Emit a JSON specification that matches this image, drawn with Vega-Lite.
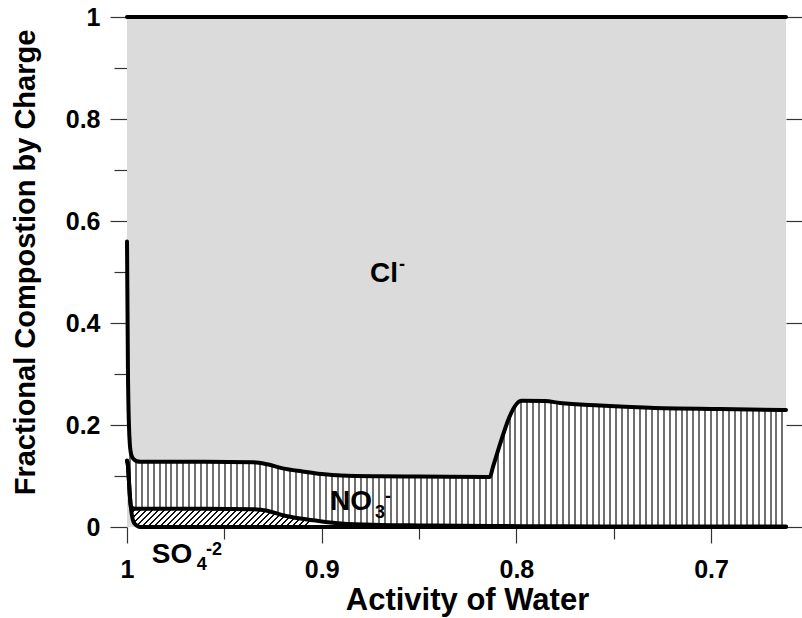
{
"$schema": "https://vega.github.io/schema/vega-lite/v6.json",
"width": 659, "height": 510,
"autosize": {"type": "none"},
"padding": {"left": 127, "top": 17, "right": 16, "bottom": 91},
"background": "white",
"config": {"view": {"stroke": null}, "font": "Liberation Sans"},
"datasets": {
"comp": [
{"aw":1,"c0":0.13,"c1":0.13,"c2":0.56},
{"aw":0.9995,"c0":0.12,"c1":0.12,"c2":0.3},
{"aw":0.999,"c0":0.09,"c1":0.09,"c2":0.2},
{"aw":0.9985,"c0":0.06,"c1":0.06,"c2":0.16},
{"aw":0.998,"c0":0.038,"c1":0.04,"c2":0.145},
{"aw":0.997,"c0":0.014,"c1":0.037,"c2":0.135},
{"aw":0.996,"c0":0.006,"c1":0.036,"c2":0.131},
{"aw":0.995,"c0":0.003,"c1":0.036,"c2":0.129},
{"aw":0.993,"c0":0,"c1":0.036,"c2":0.128},
{"aw":0.96,"c0":0,"c1":0.036,"c2":0.128},
{"aw":0.935,"c0":0,"c1":0.035,"c2":0.127},
{"aw":0.928,"c0":0,"c1":0.032,"c2":0.123},
{"aw":0.92,"c0":0,"c1":0.023,"c2":0.115},
{"aw":0.91,"c0":0,"c1":0.016,"c2":0.109},
{"aw":0.9,"c0":0,"c1":0.011,"c2":0.104},
{"aw":0.89,"c0":0,"c1":0.007,"c2":0.101},
{"aw":0.87,"c0":0,"c1":0.004,"c2":0.0995},
{"aw":0.85,"c0":0,"c1":0.003,"c2":0.099},
{"aw":0.8136,"c0":0,"c1":0.002,"c2":0.098},
{"aw":0.812,"c0":0,"c1":0.002,"c2":0.118},
{"aw":0.7973,"c0":0,"c1":0.0015,"c2":0.2476},
{"aw":0.7853,"c0":0,"c1":0.0015,"c2":0.247},
{"aw":0.7776,"c0":0,"c1":0.0013,"c2":0.2431},
{"aw":0.7571,"c0":0,"c1":0.0012,"c2":0.2382},
{"aw":0.7314,"c0":0,"c1":0.001,"c2":0.2339},
{"aw":0.6954,"c0":0,"c1":0.001,"c2":0.2314},
{"aw":0.6615,"c0":0,"c1":0.001,"c2":0.2294}
],
"labels": [
{"aw":0.8752,"frac":0.4804,"text":"Cl","kind":"main"},
{"aw":0.8603,"frac":0.503,"text":"-","kind":"sup"},
{"aw":0.8957,"frac":0.0333,"text":"NO","kind":"main"},
{"aw":0.8726,"frac":0.0176,"text":"3","kind":"sub"},
{"aw":0.8675,"frac":0.049,"text":"-","kind":"sup"},
{"aw":0.9873,"frac":-0.07,"text":"SO","kind":"main"},
{"aw":0.9642,"frac":-0.0843,"text":"4","kind":"sub"},
{"aw":0.9594,"frac":-0.0549,"text":"-2","kind":"sup"}
]
},
"encoding": {
"x": {"field": "aw", "type": "quantitative",
 "scale": {"domain": [0.6615, 1], "reverse": true, "nice": false, "zero": false},
 "axis": {"title": "Activity of Water", "values": [1, 0.95, 0.9, 0.85, 0.8, 0.75, 0.7],
  "labelExpr": "round(datum.value*20)%2==0 ? (datum.value==1 ? '1' : format(datum.value, '.1f')) : ''",
  "tickSize": {"condition": {"test": "round(datum.value*20)%2==0", "value": 16}, "value": 12},
  "tickColor": "#333", "tickWidth": 1.2, "domain": false, "grid": false,
  "labelFlush": false, "labelOverlap": false,
  "labelFont": "Liberation Sans", "labelFontWeight": "bold", "labelFontSize": 25, "labelColor": "#000", "labelPadding": 14,
  "titleFont": "Liberation Sans", "titleFontWeight": "bold", "titleFontSize": 31, "titleColor": "#000",
  "titleX": 340, "titleY": 82, "titleBaseline": "alphabetic", "titleAlign": "center"}}
},
"resolve": {"axis": {"y": "independent"}},
"layer": [
{"data": {"name": "comp"},
 "mark": {"type": "area", "fill": "#dbdbdb", "opacity": 1, "interpolate": "monotone"},
 "encoding": {
  "y": {"field": "c2", "type": "quantitative",
   "scale": {"domain": [0, 1], "nice": false, "zero": false},
   "axis": {"orient": "left", "title": "Fractional Compostion by Charge",
    "values": [0, 0.1, 0.2, 0.3, 0.4, 0.5, 0.6, 0.7, 0.8, 0.9, 1],
    "labelExpr": "round(datum.value*10)%2==0 ? (datum.value==0 ? '0' : datum.value==1 ? '1' : format(datum.value, '.1f')) : ''",
    "tickSize": {"condition": {"test": "round(datum.value*10)%2==0", "value": 17}, "value": 13},
    "tickColor": "#333", "tickWidth": 1.2, "domainColor": "#999", "domainWidth": 1, "grid": false,
    "labelOverlap": false, "labelFont": "Liberation Sans", "labelFontWeight": "bold", "labelFontSize": 25, "labelColor": "#000", "labelPadding": 10,
    "titleFont": "Liberation Sans", "titleFontWeight": "bold", "titleFontSize": 29, "titleColor": "#000",
    "titleX": -102, "titleY": 245, "titleBaseline": "middle", "titleAlign": "center", "titleAngle": 270}},
  "y2": {"datum": 1}
 }},
{"data": {"name": "comp"},
 "mark": {"type": "area", "opacity": 1, "interpolate": "monotone",
  "fill": {"gradient": "linear", "x1": 0, "y1": 0, "x2": 1, "y2": 0, "stops": [
{"offset":0.003,"color":"#fff"},{"offset":0.003,"color":"#707070"},{"offset":0.006,"color":"#707070"},{"offset":0.006,"color":"#fff"},
{"offset":0.012,"color":"#fff"},{"offset":0.012,"color":"#707070"},{"offset":0.015,"color":"#707070"},{"offset":0.015,"color":"#fff"},
{"offset":0.021,"color":"#fff"},{"offset":0.021,"color":"#707070"},{"offset":0.024,"color":"#707070"},{"offset":0.024,"color":"#fff"},
{"offset":0.030,"color":"#fff"},{"offset":0.030,"color":"#707070"},{"offset":0.033,"color":"#707070"},{"offset":0.033,"color":"#fff"},
{"offset":0.039,"color":"#fff"},{"offset":0.039,"color":"#707070"},{"offset":0.042,"color":"#707070"},{"offset":0.042,"color":"#fff"},
{"offset":0.048,"color":"#fff"},{"offset":0.048,"color":"#707070"},{"offset":0.051,"color":"#707070"},{"offset":0.051,"color":"#fff"},
{"offset":0.057,"color":"#fff"},{"offset":0.057,"color":"#707070"},{"offset":0.060,"color":"#707070"},{"offset":0.060,"color":"#fff"},
{"offset":0.066,"color":"#fff"},{"offset":0.066,"color":"#707070"},{"offset":0.069,"color":"#707070"},{"offset":0.069,"color":"#fff"},
{"offset":0.075,"color":"#fff"},{"offset":0.075,"color":"#707070"},{"offset":0.078,"color":"#707070"},{"offset":0.078,"color":"#fff"},
{"offset":0.084,"color":"#fff"},{"offset":0.084,"color":"#707070"},{"offset":0.087,"color":"#707070"},{"offset":0.087,"color":"#fff"},
{"offset":0.093,"color":"#fff"},{"offset":0.093,"color":"#707070"},{"offset":0.096,"color":"#707070"},{"offset":0.096,"color":"#fff"},
{"offset":0.102,"color":"#fff"},{"offset":0.102,"color":"#707070"},{"offset":0.105,"color":"#707070"},{"offset":0.105,"color":"#fff"},
{"offset":0.111,"color":"#fff"},{"offset":0.111,"color":"#707070"},{"offset":0.114,"color":"#707070"},{"offset":0.114,"color":"#fff"},
{"offset":0.120,"color":"#fff"},{"offset":0.120,"color":"#707070"},{"offset":0.123,"color":"#707070"},{"offset":0.123,"color":"#fff"},
{"offset":0.129,"color":"#fff"},{"offset":0.129,"color":"#707070"},{"offset":0.132,"color":"#707070"},{"offset":0.132,"color":"#fff"},
{"offset":0.138,"color":"#fff"},{"offset":0.138,"color":"#707070"},{"offset":0.141,"color":"#707070"},{"offset":0.141,"color":"#fff"},
{"offset":0.147,"color":"#fff"},{"offset":0.147,"color":"#707070"},{"offset":0.150,"color":"#707070"},{"offset":0.150,"color":"#fff"},
{"offset":0.156,"color":"#fff"},{"offset":0.156,"color":"#707070"},{"offset":0.159,"color":"#707070"},{"offset":0.159,"color":"#fff"},
{"offset":0.165,"color":"#fff"},{"offset":0.165,"color":"#707070"},{"offset":0.168,"color":"#707070"},{"offset":0.168,"color":"#fff"},
{"offset":0.174,"color":"#fff"},{"offset":0.174,"color":"#707070"},{"offset":0.177,"color":"#707070"},{"offset":0.177,"color":"#fff"},
{"offset":0.183,"color":"#fff"},{"offset":0.183,"color":"#707070"},{"offset":0.186,"color":"#707070"},{"offset":0.186,"color":"#fff"},
{"offset":0.192,"color":"#fff"},{"offset":0.192,"color":"#707070"},{"offset":0.195,"color":"#707070"},{"offset":0.195,"color":"#fff"},
{"offset":0.201,"color":"#fff"},{"offset":0.201,"color":"#707070"},{"offset":0.204,"color":"#707070"},{"offset":0.204,"color":"#fff"},
{"offset":0.210,"color":"#fff"},{"offset":0.210,"color":"#707070"},{"offset":0.213,"color":"#707070"},{"offset":0.213,"color":"#fff"},
{"offset":0.219,"color":"#fff"},{"offset":0.219,"color":"#707070"},{"offset":0.222,"color":"#707070"},{"offset":0.222,"color":"#fff"},
{"offset":0.228,"color":"#fff"},{"offset":0.228,"color":"#707070"},{"offset":0.231,"color":"#707070"},{"offset":0.231,"color":"#fff"},
{"offset":0.237,"color":"#fff"},{"offset":0.237,"color":"#707070"},{"offset":0.240,"color":"#707070"},{"offset":0.240,"color":"#fff"},
{"offset":0.246,"color":"#fff"},{"offset":0.246,"color":"#707070"},{"offset":0.249,"color":"#707070"},{"offset":0.249,"color":"#fff"},
{"offset":0.255,"color":"#fff"},{"offset":0.255,"color":"#707070"},{"offset":0.258,"color":"#707070"},{"offset":0.258,"color":"#fff"},
{"offset":0.264,"color":"#fff"},{"offset":0.264,"color":"#707070"},{"offset":0.267,"color":"#707070"},{"offset":0.267,"color":"#fff"},
{"offset":0.273,"color":"#fff"},{"offset":0.273,"color":"#707070"},{"offset":0.276,"color":"#707070"},{"offset":0.276,"color":"#fff"},
{"offset":0.282,"color":"#fff"},{"offset":0.282,"color":"#707070"},{"offset":0.285,"color":"#707070"},{"offset":0.285,"color":"#fff"},
{"offset":0.291,"color":"#fff"},{"offset":0.291,"color":"#707070"},{"offset":0.294,"color":"#707070"},{"offset":0.294,"color":"#fff"},
{"offset":0.300,"color":"#fff"},{"offset":0.300,"color":"#707070"},{"offset":0.303,"color":"#707070"},{"offset":0.303,"color":"#fff"},
{"offset":0.309,"color":"#fff"},{"offset":0.309,"color":"#707070"},{"offset":0.312,"color":"#707070"},{"offset":0.312,"color":"#fff"},
{"offset":0.318,"color":"#fff"},{"offset":0.318,"color":"#707070"},{"offset":0.321,"color":"#707070"},{"offset":0.321,"color":"#fff"},
{"offset":0.327,"color":"#fff"},{"offset":0.327,"color":"#707070"},{"offset":0.330,"color":"#707070"},{"offset":0.330,"color":"#fff"},
{"offset":0.336,"color":"#fff"},{"offset":0.336,"color":"#707070"},{"offset":0.339,"color":"#707070"},{"offset":0.339,"color":"#fff"},
{"offset":0.345,"color":"#fff"},{"offset":0.345,"color":"#707070"},{"offset":0.348,"color":"#707070"},{"offset":0.348,"color":"#fff"},
{"offset":0.354,"color":"#fff"},{"offset":0.354,"color":"#707070"},{"offset":0.357,"color":"#707070"},{"offset":0.357,"color":"#fff"},
{"offset":0.363,"color":"#fff"},{"offset":0.363,"color":"#707070"},{"offset":0.366,"color":"#707070"},{"offset":0.366,"color":"#fff"},
{"offset":0.372,"color":"#fff"},{"offset":0.372,"color":"#707070"},{"offset":0.375,"color":"#707070"},{"offset":0.375,"color":"#fff"},
{"offset":0.381,"color":"#fff"},{"offset":0.381,"color":"#707070"},{"offset":0.384,"color":"#707070"},{"offset":0.384,"color":"#fff"},
{"offset":0.390,"color":"#fff"},{"offset":0.390,"color":"#707070"},{"offset":0.393,"color":"#707070"},{"offset":0.393,"color":"#fff"},
{"offset":0.399,"color":"#fff"},{"offset":0.399,"color":"#707070"},{"offset":0.402,"color":"#707070"},{"offset":0.402,"color":"#fff"},
{"offset":0.408,"color":"#fff"},{"offset":0.408,"color":"#707070"},{"offset":0.411,"color":"#707070"},{"offset":0.411,"color":"#fff"},
{"offset":0.417,"color":"#fff"},{"offset":0.417,"color":"#707070"},{"offset":0.420,"color":"#707070"},{"offset":0.420,"color":"#fff"},
{"offset":0.426,"color":"#fff"},{"offset":0.426,"color":"#707070"},{"offset":0.429,"color":"#707070"},{"offset":0.429,"color":"#fff"},
{"offset":0.435,"color":"#fff"},{"offset":0.435,"color":"#707070"},{"offset":0.438,"color":"#707070"},{"offset":0.438,"color":"#fff"},
{"offset":0.444,"color":"#fff"},{"offset":0.444,"color":"#707070"},{"offset":0.447,"color":"#707070"},{"offset":0.447,"color":"#fff"},
{"offset":0.453,"color":"#fff"},{"offset":0.453,"color":"#707070"},{"offset":0.456,"color":"#707070"},{"offset":0.456,"color":"#fff"},
{"offset":0.462,"color":"#fff"},{"offset":0.462,"color":"#707070"},{"offset":0.465,"color":"#707070"},{"offset":0.465,"color":"#fff"},
{"offset":0.471,"color":"#fff"},{"offset":0.471,"color":"#707070"},{"offset":0.474,"color":"#707070"},{"offset":0.474,"color":"#fff"},
{"offset":0.480,"color":"#fff"},{"offset":0.480,"color":"#707070"},{"offset":0.483,"color":"#707070"},{"offset":0.483,"color":"#fff"},
{"offset":0.489,"color":"#fff"},{"offset":0.489,"color":"#707070"},{"offset":0.492,"color":"#707070"},{"offset":0.492,"color":"#fff"},
{"offset":0.498,"color":"#fff"},{"offset":0.498,"color":"#707070"},{"offset":0.501,"color":"#707070"},{"offset":0.501,"color":"#fff"},
{"offset":0.507,"color":"#fff"},{"offset":0.507,"color":"#707070"},{"offset":0.510,"color":"#707070"},{"offset":0.510,"color":"#fff"},
{"offset":0.516,"color":"#fff"},{"offset":0.516,"color":"#707070"},{"offset":0.519,"color":"#707070"},{"offset":0.519,"color":"#fff"},
{"offset":0.525,"color":"#fff"},{"offset":0.525,"color":"#707070"},{"offset":0.528,"color":"#707070"},{"offset":0.528,"color":"#fff"},
{"offset":0.534,"color":"#fff"},{"offset":0.534,"color":"#707070"},{"offset":0.537,"color":"#707070"},{"offset":0.537,"color":"#fff"},
{"offset":0.543,"color":"#fff"},{"offset":0.543,"color":"#707070"},{"offset":0.546,"color":"#707070"},{"offset":0.546,"color":"#fff"},
{"offset":0.552,"color":"#fff"},{"offset":0.552,"color":"#707070"},{"offset":0.555,"color":"#707070"},{"offset":0.555,"color":"#fff"},
{"offset":0.561,"color":"#fff"},{"offset":0.561,"color":"#707070"},{"offset":0.564,"color":"#707070"},{"offset":0.564,"color":"#fff"},
{"offset":0.570,"color":"#fff"},{"offset":0.570,"color":"#707070"},{"offset":0.573,"color":"#707070"},{"offset":0.573,"color":"#fff"},
{"offset":0.579,"color":"#fff"},{"offset":0.579,"color":"#707070"},{"offset":0.582,"color":"#707070"},{"offset":0.582,"color":"#fff"},
{"offset":0.588,"color":"#fff"},{"offset":0.588,"color":"#707070"},{"offset":0.591,"color":"#707070"},{"offset":0.591,"color":"#fff"},
{"offset":0.597,"color":"#fff"},{"offset":0.597,"color":"#707070"},{"offset":0.600,"color":"#707070"},{"offset":0.600,"color":"#fff"},
{"offset":0.606,"color":"#fff"},{"offset":0.606,"color":"#707070"},{"offset":0.609,"color":"#707070"},{"offset":0.609,"color":"#fff"},
{"offset":0.615,"color":"#fff"},{"offset":0.615,"color":"#707070"},{"offset":0.618,"color":"#707070"},{"offset":0.618,"color":"#fff"},
{"offset":0.624,"color":"#fff"},{"offset":0.624,"color":"#707070"},{"offset":0.627,"color":"#707070"},{"offset":0.627,"color":"#fff"},
{"offset":0.633,"color":"#fff"},{"offset":0.633,"color":"#707070"},{"offset":0.636,"color":"#707070"},{"offset":0.636,"color":"#fff"},
{"offset":0.642,"color":"#fff"},{"offset":0.642,"color":"#707070"},{"offset":0.645,"color":"#707070"},{"offset":0.645,"color":"#fff"},
{"offset":0.651,"color":"#fff"},{"offset":0.651,"color":"#707070"},{"offset":0.654,"color":"#707070"},{"offset":0.654,"color":"#fff"},
{"offset":0.660,"color":"#fff"},{"offset":0.660,"color":"#707070"},{"offset":0.663,"color":"#707070"},{"offset":0.663,"color":"#fff"},
{"offset":0.669,"color":"#fff"},{"offset":0.669,"color":"#707070"},{"offset":0.672,"color":"#707070"},{"offset":0.672,"color":"#fff"},
{"offset":0.678,"color":"#fff"},{"offset":0.678,"color":"#707070"},{"offset":0.681,"color":"#707070"},{"offset":0.681,"color":"#fff"},
{"offset":0.687,"color":"#fff"},{"offset":0.687,"color":"#707070"},{"offset":0.690,"color":"#707070"},{"offset":0.690,"color":"#fff"},
{"offset":0.696,"color":"#fff"},{"offset":0.696,"color":"#707070"},{"offset":0.699,"color":"#707070"},{"offset":0.699,"color":"#fff"},
{"offset":0.705,"color":"#fff"},{"offset":0.705,"color":"#707070"},{"offset":0.708,"color":"#707070"},{"offset":0.708,"color":"#fff"},
{"offset":0.714,"color":"#fff"},{"offset":0.714,"color":"#707070"},{"offset":0.717,"color":"#707070"},{"offset":0.717,"color":"#fff"},
{"offset":0.723,"color":"#fff"},{"offset":0.723,"color":"#707070"},{"offset":0.726,"color":"#707070"},{"offset":0.726,"color":"#fff"},
{"offset":0.732,"color":"#fff"},{"offset":0.732,"color":"#707070"},{"offset":0.735,"color":"#707070"},{"offset":0.735,"color":"#fff"},
{"offset":0.741,"color":"#fff"},{"offset":0.741,"color":"#707070"},{"offset":0.744,"color":"#707070"},{"offset":0.744,"color":"#fff"},
{"offset":0.750,"color":"#fff"},{"offset":0.750,"color":"#707070"},{"offset":0.753,"color":"#707070"},{"offset":0.753,"color":"#fff"},
{"offset":0.759,"color":"#fff"},{"offset":0.759,"color":"#707070"},{"offset":0.762,"color":"#707070"},{"offset":0.762,"color":"#fff"},
{"offset":0.768,"color":"#fff"},{"offset":0.768,"color":"#707070"},{"offset":0.771,"color":"#707070"},{"offset":0.771,"color":"#fff"},
{"offset":0.777,"color":"#fff"},{"offset":0.777,"color":"#707070"},{"offset":0.780,"color":"#707070"},{"offset":0.780,"color":"#fff"},
{"offset":0.786,"color":"#fff"},{"offset":0.786,"color":"#707070"},{"offset":0.789,"color":"#707070"},{"offset":0.789,"color":"#fff"},
{"offset":0.795,"color":"#fff"},{"offset":0.795,"color":"#707070"},{"offset":0.798,"color":"#707070"},{"offset":0.798,"color":"#fff"},
{"offset":0.804,"color":"#fff"},{"offset":0.804,"color":"#707070"},{"offset":0.807,"color":"#707070"},{"offset":0.807,"color":"#fff"},
{"offset":0.813,"color":"#fff"},{"offset":0.813,"color":"#707070"},{"offset":0.816,"color":"#707070"},{"offset":0.816,"color":"#fff"},
{"offset":0.822,"color":"#fff"},{"offset":0.822,"color":"#707070"},{"offset":0.825,"color":"#707070"},{"offset":0.825,"color":"#fff"},
{"offset":0.831,"color":"#fff"},{"offset":0.831,"color":"#707070"},{"offset":0.834,"color":"#707070"},{"offset":0.834,"color":"#fff"},
{"offset":0.840,"color":"#fff"},{"offset":0.840,"color":"#707070"},{"offset":0.843,"color":"#707070"},{"offset":0.843,"color":"#fff"},
{"offset":0.849,"color":"#fff"},{"offset":0.849,"color":"#707070"},{"offset":0.852,"color":"#707070"},{"offset":0.852,"color":"#fff"},
{"offset":0.858,"color":"#fff"},{"offset":0.858,"color":"#707070"},{"offset":0.861,"color":"#707070"},{"offset":0.861,"color":"#fff"},
{"offset":0.867,"color":"#fff"},{"offset":0.867,"color":"#707070"},{"offset":0.870,"color":"#707070"},{"offset":0.870,"color":"#fff"},
{"offset":0.876,"color":"#fff"},{"offset":0.876,"color":"#707070"},{"offset":0.879,"color":"#707070"},{"offset":0.879,"color":"#fff"},
{"offset":0.885,"color":"#fff"},{"offset":0.885,"color":"#707070"},{"offset":0.888,"color":"#707070"},{"offset":0.888,"color":"#fff"},
{"offset":0.894,"color":"#fff"},{"offset":0.894,"color":"#707070"},{"offset":0.897,"color":"#707070"},{"offset":0.897,"color":"#fff"},
{"offset":0.903,"color":"#fff"},{"offset":0.903,"color":"#707070"},{"offset":0.906,"color":"#707070"},{"offset":0.906,"color":"#fff"},
{"offset":0.912,"color":"#fff"},{"offset":0.912,"color":"#707070"},{"offset":0.915,"color":"#707070"},{"offset":0.915,"color":"#fff"},
{"offset":0.921,"color":"#fff"},{"offset":0.921,"color":"#707070"},{"offset":0.924,"color":"#707070"},{"offset":0.924,"color":"#fff"},
{"offset":0.930,"color":"#fff"},{"offset":0.930,"color":"#707070"},{"offset":0.933,"color":"#707070"},{"offset":0.933,"color":"#fff"},
{"offset":0.939,"color":"#fff"},{"offset":0.939,"color":"#707070"},{"offset":0.942,"color":"#707070"},{"offset":0.942,"color":"#fff"},
{"offset":0.948,"color":"#fff"},{"offset":0.948,"color":"#707070"},{"offset":0.951,"color":"#707070"},{"offset":0.951,"color":"#fff"},
{"offset":0.957,"color":"#fff"},{"offset":0.957,"color":"#707070"},{"offset":0.960,"color":"#707070"},{"offset":0.960,"color":"#fff"},
{"offset":0.966,"color":"#fff"},{"offset":0.966,"color":"#707070"},{"offset":0.969,"color":"#707070"},{"offset":0.969,"color":"#fff"},
{"offset":0.975,"color":"#fff"},{"offset":0.975,"color":"#707070"},{"offset":0.978,"color":"#707070"},{"offset":0.978,"color":"#fff"},
{"offset":0.984,"color":"#fff"},{"offset":0.984,"color":"#707070"},{"offset":0.987,"color":"#707070"},{"offset":0.987,"color":"#fff"},
{"offset":0.993,"color":"#fff"},{"offset":0.993,"color":"#707070"},{"offset":0.996,"color":"#707070"},{"offset":0.996,"color":"#fff"}
  ]}},
 "encoding": {
  "y": {"field": "c1", "type": "quantitative", "axis": null},
  "y2": {"field": "c2"}
 }},
{"data": {"name": "comp"},
 "mark": {"type": "area", "opacity": 1, "interpolate": "monotone",
  "fill": {"gradient": "linear", "x1": 0, "y1": 0, "x2": 1, "y2": 0.1, "stops": [
{"offset":0.003,"color":"#fff"},{"offset":0.003,"color":"#111"},{"offset":0.0052,"color":"#111"},{"offset":0.0052,"color":"#fff"},
{"offset":0.012,"color":"#fff"},{"offset":0.012,"color":"#111"},{"offset":0.0142,"color":"#111"},{"offset":0.0142,"color":"#fff"},
{"offset":0.021,"color":"#fff"},{"offset":0.021,"color":"#111"},{"offset":0.0232,"color":"#111"},{"offset":0.0232,"color":"#fff"},
{"offset":0.030,"color":"#fff"},{"offset":0.030,"color":"#111"},{"offset":0.0322,"color":"#111"},{"offset":0.0322,"color":"#fff"},
{"offset":0.039,"color":"#fff"},{"offset":0.039,"color":"#111"},{"offset":0.0412,"color":"#111"},{"offset":0.0412,"color":"#fff"},
{"offset":0.048,"color":"#fff"},{"offset":0.048,"color":"#111"},{"offset":0.0502,"color":"#111"},{"offset":0.0502,"color":"#fff"},
{"offset":0.057,"color":"#fff"},{"offset":0.057,"color":"#111"},{"offset":0.0592,"color":"#111"},{"offset":0.0592,"color":"#fff"},
{"offset":0.066,"color":"#fff"},{"offset":0.066,"color":"#111"},{"offset":0.0682,"color":"#111"},{"offset":0.0682,"color":"#fff"},
{"offset":0.075,"color":"#fff"},{"offset":0.075,"color":"#111"},{"offset":0.0772,"color":"#111"},{"offset":0.0772,"color":"#fff"},
{"offset":0.084,"color":"#fff"},{"offset":0.084,"color":"#111"},{"offset":0.0862,"color":"#111"},{"offset":0.0862,"color":"#fff"},
{"offset":0.093,"color":"#fff"},{"offset":0.093,"color":"#111"},{"offset":0.0952,"color":"#111"},{"offset":0.0952,"color":"#fff"},
{"offset":0.102,"color":"#fff"},{"offset":0.102,"color":"#111"},{"offset":0.1042,"color":"#111"},{"offset":0.1042,"color":"#fff"},
{"offset":0.111,"color":"#fff"},{"offset":0.111,"color":"#111"},{"offset":0.1132,"color":"#111"},{"offset":0.1132,"color":"#fff"},
{"offset":0.120,"color":"#fff"},{"offset":0.120,"color":"#111"},{"offset":0.1222,"color":"#111"},{"offset":0.1222,"color":"#fff"},
{"offset":0.129,"color":"#fff"},{"offset":0.129,"color":"#111"},{"offset":0.1312,"color":"#111"},{"offset":0.1312,"color":"#fff"},
{"offset":0.138,"color":"#fff"},{"offset":0.138,"color":"#111"},{"offset":0.1402,"color":"#111"},{"offset":0.1402,"color":"#fff"},
{"offset":0.147,"color":"#fff"},{"offset":0.147,"color":"#111"},{"offset":0.1492,"color":"#111"},{"offset":0.1492,"color":"#fff"},
{"offset":0.156,"color":"#fff"},{"offset":0.156,"color":"#111"},{"offset":0.1582,"color":"#111"},{"offset":0.1582,"color":"#fff"},
{"offset":0.165,"color":"#fff"},{"offset":0.165,"color":"#111"},{"offset":0.1672,"color":"#111"},{"offset":0.1672,"color":"#fff"},
{"offset":0.174,"color":"#fff"},{"offset":0.174,"color":"#111"},{"offset":0.1762,"color":"#111"},{"offset":0.1762,"color":"#fff"},
{"offset":0.183,"color":"#fff"},{"offset":0.183,"color":"#111"},{"offset":0.1852,"color":"#111"},{"offset":0.1852,"color":"#fff"},
{"offset":0.192,"color":"#fff"},{"offset":0.192,"color":"#111"},{"offset":0.1942,"color":"#111"},{"offset":0.1942,"color":"#fff"},
{"offset":0.201,"color":"#fff"},{"offset":0.201,"color":"#111"},{"offset":0.2032,"color":"#111"},{"offset":0.2032,"color":"#fff"},
{"offset":0.210,"color":"#fff"},{"offset":0.210,"color":"#111"},{"offset":0.2122,"color":"#111"},{"offset":0.2122,"color":"#fff"},
{"offset":0.219,"color":"#fff"},{"offset":0.219,"color":"#111"},{"offset":0.2212,"color":"#111"},{"offset":0.2212,"color":"#fff"},
{"offset":0.228,"color":"#fff"},{"offset":0.228,"color":"#111"},{"offset":0.2302,"color":"#111"},{"offset":0.2302,"color":"#fff"},
{"offset":0.237,"color":"#fff"},{"offset":0.237,"color":"#111"},{"offset":0.2392,"color":"#111"},{"offset":0.2392,"color":"#fff"},
{"offset":0.246,"color":"#fff"},{"offset":0.246,"color":"#111"},{"offset":0.2482,"color":"#111"},{"offset":0.2482,"color":"#fff"},
{"offset":0.255,"color":"#fff"},{"offset":0.255,"color":"#111"},{"offset":0.2572,"color":"#111"},{"offset":0.2572,"color":"#fff"},
{"offset":0.264,"color":"#fff"},{"offset":0.264,"color":"#111"},{"offset":0.2662,"color":"#111"},{"offset":0.2662,"color":"#fff"},
{"offset":0.273,"color":"#fff"},{"offset":0.273,"color":"#111"},{"offset":0.2752,"color":"#111"},{"offset":0.2752,"color":"#fff"},
{"offset":0.282,"color":"#fff"},{"offset":0.282,"color":"#111"},{"offset":0.2842,"color":"#111"},{"offset":0.2842,"color":"#fff"},
{"offset":0.291,"color":"#fff"},{"offset":0.291,"color":"#111"},{"offset":0.2932,"color":"#111"},{"offset":0.2932,"color":"#fff"},
{"offset":0.300,"color":"#fff"},{"offset":0.300,"color":"#111"},{"offset":0.3022,"color":"#111"},{"offset":0.3022,"color":"#fff"},
{"offset":0.309,"color":"#fff"},{"offset":0.309,"color":"#111"},{"offset":0.3112,"color":"#111"},{"offset":0.3112,"color":"#fff"},
{"offset":0.318,"color":"#fff"},{"offset":0.318,"color":"#111"},{"offset":0.3202,"color":"#111"},{"offset":0.3202,"color":"#fff"},
{"offset":0.327,"color":"#fff"},{"offset":0.327,"color":"#111"},{"offset":0.3292,"color":"#111"},{"offset":0.3292,"color":"#fff"},
{"offset":0.336,"color":"#fff"},{"offset":0.336,"color":"#111"},{"offset":0.3382,"color":"#111"},{"offset":0.3382,"color":"#fff"},
{"offset":0.345,"color":"#fff"},{"offset":0.345,"color":"#111"},{"offset":0.3472,"color":"#111"},{"offset":0.3472,"color":"#fff"},
{"offset":0.354,"color":"#fff"},{"offset":0.354,"color":"#111"},{"offset":0.3562,"color":"#111"},{"offset":0.3562,"color":"#fff"},
{"offset":0.363,"color":"#fff"},{"offset":0.363,"color":"#111"},{"offset":0.3652,"color":"#111"},{"offset":0.3652,"color":"#fff"}
  ]}},
 "encoding": {
  "y": {"field": "c0", "type": "quantitative", "axis": null},
  "y2": {"field": "c1"}
 }},
{"data": {"name": "comp"},
 "mark": {"type": "area", "fill": "#dbdbdb", "opacity": 1, "interpolate": "monotone"},
 "encoding": {
  "y": {"field": "c0", "type": "quantitative", "axis": null},
  "y2": {"datum": 0}
 }},
{"data": {"name": "comp"},
 "mark": {"type": "line", "color": "#000", "strokeWidth": 4, "strokeCap": "round", "strokeJoin": "round", "interpolate": "monotone"},
 "encoding": {"y": {"field": "c0", "type": "quantitative", "axis": null}}},
{"data": {"name": "comp"},
 "mark": {"type": "line", "color": "#000", "strokeWidth": 4, "strokeCap": "round", "strokeJoin": "round", "interpolate": "monotone"},
 "encoding": {"y": {"field": "c1", "type": "quantitative", "axis": null}}},
{"data": {"name": "comp"},
 "mark": {"type": "line", "color": "#000", "strokeWidth": 4, "strokeCap": "round", "strokeJoin": "round", "interpolate": "monotone"},
 "encoding": {"y": {"field": "c2", "type": "quantitative",
  "axis": {"orient": "right", "title": null, "values": [0, 0.2, 0.4, 0.6, 0.8, 1], "tickSize": 16, "labels": false, "domain": false, "grid": false, "tickColor": "#333", "tickWidth": 1.2}}}},
{"data": {"name": "comp"},
 "mark": {"type": "line", "color": "#000", "strokeWidth": 4, "strokeCap": "round"},
 "encoding": {"y": {"datum": 1, "type": "quantitative", "axis": null}}},
{"data": {"name": "labels"},
 "transform": [{"filter": "datum.kind == 'main'"}],
 "mark": {"type": "text", "align": "left", "baseline": "alphabetic", "font": "Liberation Sans", "fontWeight": "bold", "fontSize": 28, "color": "#000"},
 "encoding": {"y": {"field": "frac", "type": "quantitative", "axis": null}, "text": {"field": "text"}}},
{"data": {"name": "labels"},
 "transform": [{"filter": "datum.kind != 'main'"}],
 "mark": {"type": "text", "align": "left", "baseline": "alphabetic", "font": "Liberation Sans", "fontWeight": "bold", "fontSize": 18, "color": "#000"},
 "encoding": {"y": {"field": "frac", "type": "quantitative", "axis": null}, "text": {"field": "text"}}}
]
}
